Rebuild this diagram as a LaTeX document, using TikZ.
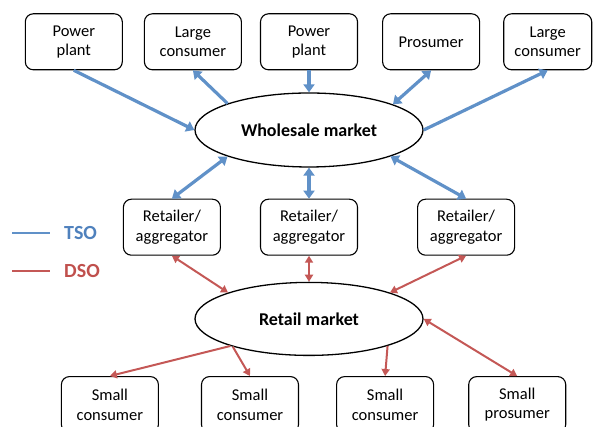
\documentclass[tikz,border=0pt]{standalone}
\usepackage{fontspec}
\setmainfont{Carlito}
\usetikzlibrary{positioning,shapes.geometric,arrows.meta}
\definecolor{tsoblue}{RGB}{96,145,200}
\definecolor{dsored}{RGB}{196,88,86}
\definecolor{tsotext}{RGB}{79,129,189}
\definecolor{dsotext}{RGB}{192,80,77}

\begin{document}
\begin{tikzpicture}[x=1pt,y=1pt,
        box/.style={rectangle, rounded corners=8pt, draw, line width=1.1pt, fill=white,
        minimum width=97pt, minimum height=56pt, inner sep=1pt, align=center,
        font=\fontsize{16.5}{19.5}\selectfont},
        market/.style={ellipse, draw, line width=1.3pt, fill=white, minimum width=228pt,
        minimum height=74pt, inner sep=0pt, font=\fontsize{18}{21}\selectfont\bfseries},
        legend/.style={inner sep=0pt, anchor=west, font=\fontsize{20}{23}\selectfont\bfseries},
        tso line/.style={draw=tsoblue, line width=3.2pt, >={Triangle[length=8pt,width=11pt]}},
        dso line/.style={draw=dsored, line width=2pt, >={Triangle[length=7pt,width=8pt]}}
        ]
        \useasboundingbox (0,0) rectangle (593,427);

        \node [market] (wm) at (309,297) {Wholesale market};
        \node [box] (pp2) [above = 22pt of wm] {Power\\plant};
        \node [box] (lc1) [left = 18pt of pp2] {Large\\consumer};
        \node [box] (pp1) [left = 21pt of lc1] {Power\\plant};
        \node [box] (pro) [right = 24pt of pp2] {Prosumer};
        \node [box, minimum width=88pt] (lc2) [right = 23pt of pro] {Large\\consumer};

        \node [box] (ret2) [below = 31pt of wm] {Retailer/\\aggregator};
        \node [box] (ret1) [left = 39pt of ret2] {Retailer/\\aggregator};
        \node [box] (ret3) [right = 59pt of ret2] {Retailer/\\aggregator};

        \node [market, minimum height=73pt] (rm) [below = 26pt of ret2] {Retail market};
        \node [box] (sc2) [below = 20pt of rm, xshift=-59pt] {Small\\consumer};
        \node [box] (sc1) [left = 42pt of sc2] {Small\\consumer};
        \node [box] (sc3) [right = 37pt of sc2] {Small\\consumer};
        \node [box] (sp) [right = 34pt of sc3] {Small\\prosumer};

        % legend
        \node [legend, text=tsotext] (tso) at (64,194) {TSO};
        \node [legend, text=dsotext] (dso) at (64,156) {DSO};
        \coordinate [left = 14pt of tso] (tsoa);
        \coordinate [left = 38pt of tsoa] (tsob);
        \coordinate [left = 14pt of dso] (dsoa);
        \coordinate [left = 38pt of dsoa] (dsob);
        \draw [tso line, line width=2pt] (tsob) -- (tsoa);
        \draw [dso line, line width=2pt] (dsob) -- (dsoa);

        \path
        (pp1.south) edge [tso line, ->] (wm.west)
        (wm.162) edge [tso line, ->] (lc1.south)
        (pp2.south) edge [tso line, ->] (wm.north)
        (pro.south) edge [tso line, <->] (wm.17)
        (wm.east) edge [tso line, ->] (lc2.south)
        (wm.198) edge [tso line, <->] (ret1.north)
        (wm.south) edge [tso line, <->] (ret2.north)
        (wm.342) edge [tso line, <->] (ret3.north)
        (ret1.south) edge [dso line, <->] (rm.162)
        (ret2.south) edge [dso line, <->] (rm.north)
        (ret3.south) edge [dso line, <->] (rm.18)
        (rm.199) edge [dso line, ->] (sc1.north)
        (rm.200) edge [dso line, ->] (sc2.north)
        (rm.341) edge [dso line, ->] (sc3.north)
        (rm.east) edge [dso line, <->] (sp.north)
        ;
\end{tikzpicture}
\end{document}
